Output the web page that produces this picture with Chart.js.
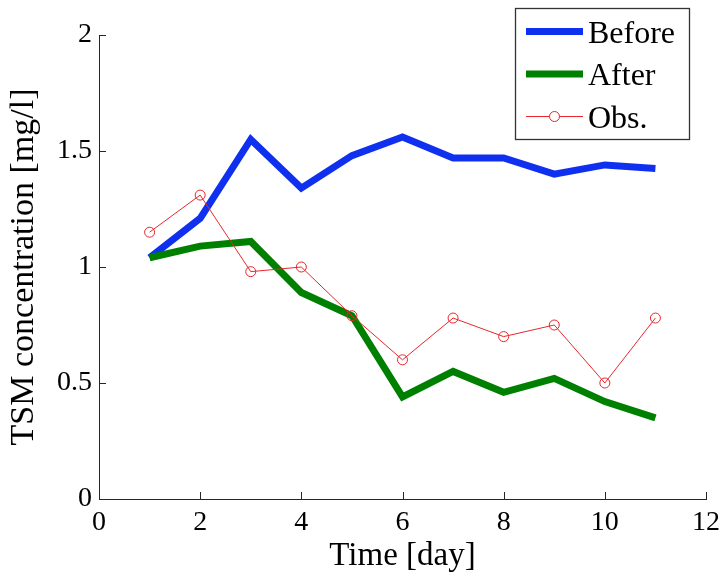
<!DOCTYPE html>
<html>
<head>
<meta charset="utf-8">
<script src="https://cdn.jsdelivr.net/npm/chart.js@4/dist/chart.umd.min.js"></script>
<style>
  html, body { margin: 0; padding: 0; background: #ffffff; }
  #c { display: block; }
</style>
</head>
<body>
<canvas id="c" width="727" height="579"></canvas>
<script>
// ---- Data ----
const days = [1, 2, 3, 4, 5, 6, 7, 8, 9, 10, 11];
const beforeValues = [1.04, 1.21, 1.55, 1.34, 1.48, 1.56, 1.47, 1.47, 1.40, 1.44, 1.425];
const afterValues  = [1.04, 1.09, 1.11, 0.89, 0.79, 0.44, 0.55, 0.46, 0.52, 0.42, 0.35];
const obsValues    = [1.15, 1.31, 0.98, 1.00, 0.79, 0.60, 0.78, 0.70, 0.75, 0.50, 0.78];
const seriesNames  = ['Before', 'After', 'Obs.'];
const xTickValues  = [0, 2, 4, 6, 8, 10, 12];
const yTickValues  = [0, 0.5, 1, 1.5, 2];
const xTickLabels  = ['0', '2', '4', '6', '8', '10', '12'];
const yTickLabels  = ['0', '0.5', '1', '1.5', '2'];
const xTitle = 'Time [day]';
const yTitle = 'TSM concentration [mg/l]';

const toPoints = (vals) => vals.map((v, i) => ({ x: days[i], y: v }));

const SERIF = '"Liberation Serif", "DejaVu Serif", serif';
const BLUE = '#1030f0';
const GREEN = '#008000';
const RED = '#e8262b';
const AXIS = '#262626';

// Inward tick marks (MATLAB style) using the chart's own scales
const inwardTicks = {
  id: 'inwardTicks',
  afterDatasetsDraw(chart) {
    const { ctx, chartArea, scales } = chart;
    ctx.save();
    ctx.strokeStyle = AXIS;
    ctx.lineWidth = 1;
    ctx.beginPath();
    xTickValues.forEach(v => {
      const px = Math.round(scales.x.getPixelForValue(v)) + 0.5;
      ctx.moveTo(px, chartArea.bottom);
      ctx.lineTo(px, chartArea.bottom - 7);
    });
    yTickValues.forEach(v => {
      const py = Math.round(scales.y.getPixelForValue(v)) + 0.5;
      ctx.moveTo(chartArea.left, py);
      ctx.lineTo(chartArea.left + 7, py);
    });
    ctx.stroke();
    ctx.restore();
  }
};

// Legend box drawn inside the plot, like the reference
const boxLegend = {
  id: 'boxLegend',
  afterDraw(chart) {
    const { ctx } = chart;
    const bx = 515, by = 8, bw = 174, bh = 131;
    ctx.save();
    ctx.fillStyle = '#ffffff';
    ctx.fillRect(bx, by, bw, bh);
    ctx.strokeStyle = '#333333';
    ctx.lineWidth = 1.3;
    ctx.strokeRect(bx + 0.5, by + 0.5, bw, bh);
    const ds = chart.data.datasets;
    [0, 1, 2].forEach((i, r) => {
      const d = ds[i];
      const base = 42.5 + r * 42.5;
      const ly = base - 11;
      ctx.strokeStyle = d.borderColor;
      ctx.lineWidth = d.borderWidth;
      ctx.lineCap = 'butt';
      ctx.beginPath();
      ctx.moveTo(526, ly);
      ctx.lineTo(583, ly);
      ctx.stroke();
      if (d.pointRadius > 0) {
        ctx.lineWidth = 1;
        ctx.beginPath();
        ctx.arc(554.5, ly, d.pointRadius, 0, Math.PI * 2);
        ctx.fillStyle = '#ffffff';
        ctx.fill();
        ctx.stroke();
      }
      ctx.fillStyle = '#000000';
      ctx.font = '32px ' + SERIF;
      ctx.textBaseline = 'alphabetic';
      ctx.textAlign = 'left';
      ctx.fillText(d.label, 588, base);
    });
    ctx.restore();
  }
};

new Chart(document.getElementById('c'), {
  type: 'line',
  data: {
    datasets: [
      {
        label: seriesNames[0],
        data: toPoints(beforeValues),
        borderColor: BLUE,
        backgroundColor: BLUE,
        borderWidth: 7,
        pointRadius: 0,
        tension: 0,
        order: 3
      },
      {
        label: seriesNames[1],
        data: toPoints(afterValues),
        borderColor: GREEN,
        backgroundColor: GREEN,
        borderWidth: 7,
        pointRadius: 0,
        tension: 0,
        order: 2
      },
      {
        label: seriesNames[2],
        data: toPoints(obsValues),
        borderColor: RED,
        backgroundColor: 'rgba(0,0,0,0)',
        borderWidth: 1,
        pointRadius: 5,
        pointBorderWidth: 1,
        pointBorderColor: RED,
        pointBackgroundColor: 'rgba(0,0,0,0)',
        tension: 0,
        order: 1
      }
    ]
  },
  options: {
    responsive: false,
    animation: false,
    devicePixelRatio: 1,
    layout: { padding: { left: 0, top: 35, right: 19, bottom: 0 } },
    plugins: {
      legend: { display: false },
      tooltip: { enabled: false },
      title: { display: false }
    },
    scales: {
      x: {
        type: 'linear',
        min: 0,
        max: 12,
        afterBuildTicks(scale) { scale.ticks = xTickValues.map(v => ({ value: v })); },
        ticks: {
          color: '#000000',
          font: { family: SERIF, size: 28 },
          padding: 7,
          maxRotation: 0,
          autoSkip: false,
          callback: (v) => xTickLabels[xTickValues.indexOf(v)]
        },
        grid: { display: true, drawOnChartArea: false, drawTicks: false },
        border: { display: true, color: AXIS, width: 1 },
        title: {
          display: true,
          text: xTitle,
          color: '#000000',
          font: { family: SERIF, size: 33 },
          padding: { top: 0, bottom: 3 }
        },
        afterFit(scale) { scale.height = 80; }
      },
      y: {
        type: 'linear',
        min: 0,
        max: 2,
        afterBuildTicks(scale) { scale.ticks = yTickValues.map(v => ({ value: v })); },
        ticks: {
          color: '#000000',
          font: { family: SERIF, size: 28 },
          padding: 7,
          autoSkip: false,
          callback: (v) => yTickLabels[yTickValues.indexOf(v)]
        },
        grid: { display: true, drawOnChartArea: false, drawTicks: false },
        border: { display: true, color: AXIS, width: 1 },
        title: {
          display: true,
          text: yTitle,
          color: '#000000',
          font: { family: SERIF, size: 34 },
          padding: { top: 4, bottom: 0 }
        },
        afterFit(scale) { scale.width = 99; }
      }
    }
  },
  plugins: [inwardTicks, boxLegend]
});
</script>
</body>
</html>
